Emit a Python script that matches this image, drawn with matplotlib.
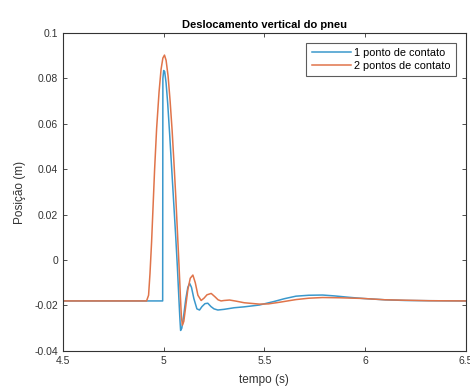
import numpy as np
import matplotlib
matplotlib.use("Agg")
from matplotlib import pyplot as plt

# 1 ponto de contato
t1 = [4.5, 4.995, 4.996, 5.0, 5.005, 5.012, 5.02, 5.03, 5.04, 5.05, 5.06, 5.068, 5.075,
      5.08, 5.084, 5.09, 5.1, 5.11, 5.12, 5.129, 5.138, 5.15, 5.165, 5.178, 5.19,
      5.205, 5.219, 5.235, 5.25, 5.269, 5.3, 5.35, 5.4, 5.475, 5.55, 5.6, 5.657,
      5.72, 5.789, 5.85, 5.92, 5.987, 6.1, 6.2, 6.317, 6.5]
y1 = [-0.018, -0.018, 0.080, 0.0835, 0.083, 0.078, 0.069, 0.055, 0.040, 0.025, 0.010, -0.003, -0.016,
      -0.025, -0.031, -0.030, -0.024, -0.017, -0.012, -0.0103, -0.012, -0.017, -0.0215, -0.022, -0.0205,
      -0.0192, -0.019, -0.0205, -0.0215, -0.022, -0.0217, -0.021, -0.0206, -0.0198, -0.0182, -0.0170, -0.0159,
      -0.0155, -0.0154, -0.0158, -0.0164, -0.0169, -0.0175, -0.0178, -0.0179, -0.018]

# 2 pontos de contato
t2 = [4.5, 4.915, 4.925, 4.932, 4.94, 4.955, 4.965, 4.977, 4.987, 4.996, 5.004, 5.012, 5.022,
      5.032, 5.042, 5.051, 5.06, 5.068, 5.076, 5.083, 5.088, 5.093, 5.1, 5.11, 5.12,
      5.132, 5.145, 5.157, 5.17, 5.186, 5.2, 5.215, 5.236, 5.255, 5.27, 5.285, 5.3,
      5.327, 5.36, 5.4, 5.475, 5.52, 5.574, 5.657, 5.72, 5.789, 5.87, 5.987, 6.1, 6.317, 6.5]
y2 = [-0.018, -0.018, -0.0155, -0.006, 0.008, 0.040, 0.058, 0.074, 0.084, 0.089, 0.0903, 0.088, 0.081,
      0.070, 0.057, 0.043, 0.028, 0.013, -0.002, -0.016, -0.025, -0.0287, -0.027, -0.020, -0.013,
      -0.008, -0.0066, -0.010, -0.0155, -0.0178, -0.0168, -0.0153, -0.0147, -0.0162, -0.0175, -0.018, -0.0178,
      -0.0176, -0.0181, -0.0188, -0.0194, -0.0193, -0.0186, -0.0174, -0.0168, -0.0165, -0.0166, -0.0169, -0.0175, -0.0179, -0.018]

plt.rcParams['font.family'] = ['Liberation Sans', 'DejaVu Sans']

fig = plt.figure(figsize=(4.70, 3.89), dpi=100)
ax = fig.add_axes([0.134, 0.098, 0.857, 0.817])

ax.plot(t1, y1, color='#3a98cc', lw=1.1, label='1 ponto de contato')
ax.plot(t2, y2, color='#e0744a', lw=1.1, label='2 pontos de contato')

ax.set_xlim(4.5, 6.5)
ax.set_ylim(-0.04, 0.1)
ax.set_xticks([4.5, 5, 5.5, 6, 6.5])
ax.set_xticklabels(['4.5', '5', '5.5', '6', '6.5'])
ax.set_yticks(np.arange(-0.04, 0.101, 0.02))
ax.set_yticklabels(['-0.04', '-0.02', '0', '0.02', '0.04', '0.06', '0.08', '0.1'])
ax.tick_params(direction='in', length=3, width=0.6, labelsize=7.5, colors='#333333',
               top=True, right=True)
for s in ax.spines.values():
    s.set_color('#333333')
    s.set_linewidth(0.8)

ax.set_title('Deslocamento vertical do pneu', fontsize=8, fontweight='bold', pad=4)
ax.set_xlabel('tempo (s)', fontsize=8.5, color='#333333', labelpad=6)
ax.set_ylabel('Posição (m)', fontsize=8.5, color='#333333', labelpad=6)

leg = ax.legend(loc='upper right', fontsize=7.8, frameon=True, fancybox=False,
                edgecolor='#333333', handlelength=3.6, borderaxespad=0.9,
                labelspacing=0.25, handletextpad=0.3, borderpad=0.5)
leg.get_frame().set_linewidth(0.8)

fig.savefig('out.png', dpi=100)
